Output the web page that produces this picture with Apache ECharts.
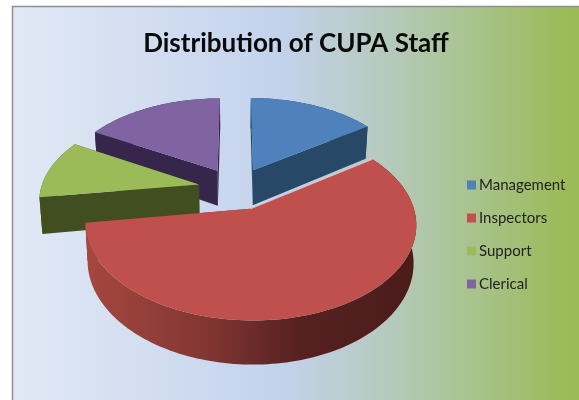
<!DOCTYPE html>
<html>
<head>
<meta charset="utf-8">
<style>html,body{margin:0;padding:0;background:#fff}#chart{width:579px;height:400px}</style>
<script src="https://cdn.jsdelivr.net/npm/echarts@6/dist/echarts.min.js"></script>
</head>
<body>
<div id="chart"></div>
<script>
const categories = ['Management', 'Inspectors', 'Support', 'Clerical'];
const values = [15.3, 57.4, 10.6, 16.7];
const topColors = ['#4f81bd', '#c0504d', '#9bbb59', '#8064a2'];
const wallColors = ['#284868', '#7a2f2d', '#414e20', '#36264b'];

const cx = 236, cy = 188.5, rx = 158, ry = 88.1, persp = 0.15, explode = 0.24, depth = 36;

const total = values.reduce((a, b) => a + b, 0);
let running = 0;
const spans = values.map(v => {
  const start = running / total * Math.PI * 2;
  running += v;
  return [start, running / total * Math.PI * 2];
});

function project(x, y, z) {
  const s = 1 / (1 - persp * y);
  return [cx + rx * x * s * (1 - 0.015 * z), cy + ry * y * s + depth * s * z];
}

function renderSlice(params, api) {
  const i = api.value(0);
  const a0 = spans[i][0], a1 = spans[i][1];
  const mid = (a0 + a1) / 2;
  const ox = Math.sin(mid) * explode, oy = -Math.cos(mid) * explode;
  const arcAt = (a, z) => project(ox + Math.sin(a), oy - Math.cos(a), z);
  const apex = z => project(ox, oy, z);

  const steps = Math.max(12, Math.round((a1 - a0) * 40));
  const arc = z => {
    const pts = [];
    for (let k = 0; k <= steps; k++) pts.push(arcAt(a0 + (a1 - a0) * k / steps, z));
    return pts;
  };

  const wallFill = i === 1
    ? new echarts.graphic.LinearGradient(85, 0, 416, 0, [
        { offset: 0, color: '#a5473f' },
        { offset: 0.35, color: '#843733' },
        { offset: 0.65, color: '#552120' },
        { offset: 1, color: '#4b1c1b' }
      ], true)
    : wallColors[i];

  const poly = (points, fill) => ({ type: 'polygon', shape: { points }, style: { fill } });
  const children = [
    poly([apex(0), arcAt(a0, 0), arcAt(a0, 1), apex(1)], wallColors[i]),
    poly([apex(0), arcAt(a1, 0), arcAt(a1, 1), apex(1)], wallColors[i]),
    poly(arc(0).concat(arc(1).reverse()), wallFill),
    poly([apex(0)].concat(arc(0)), topColors[i])
  ];
  // pale edge where the inspectors slice meets the management wall
  if (i === 1) {
    children.push({
      type: 'polyline',
      shape: { points: [apex(0), arcAt(a0, 0)] },
      style: { fill: null, stroke: 'rgba(235,235,245,0.7)', lineWidth: 1 }
    });
  }
  return { type: 'group', children };
}

const chart = echarts.init(document.getElementById('chart'), null, { renderer: 'canvas' });

// back slices first, inspectors sits on top of everything
const drawOrder = [3, 0, 2, 1];

chart.setOption({
  animation: false,
  backgroundColor: '#fff',
  title: {
    text: 'Distribution of CUPA Staff',
    left: 291,
    top: 26,
    textAlign: 'center',
    textStyle: { fontFamily: 'Lato', fontWeight: 'bold', fontSize: 26, color: '#0a0a0a' }
  },
  legend: {
    orient: 'vertical',
    left: 467,
    top: 175,
    padding: 0,
    itemWidth: 9,
    itemHeight: 9,
    itemGap: 13,
    icon: 'rect',
    data: categories,
    textStyle: { fontFamily: 'Lato', fontSize: 15, color: '#222', padding: [0, 0, 0, -2], lineHeight: 20 }
  },
  graphic: [{
    type: 'rect',
    z: -10,
    silent: true,
    shape: { x: 12.5, y: 6.5, width: 600, height: 420 },
    style: {
      stroke: '#8f8f8f',
      lineWidth: 1.5,
      fill: new echarts.graphic.LinearGradient(0, 0, 1, 0, [
        { offset: 0, color: '#e2e9f5' },
        { offset: 0.45, color: '#c3d2ec' },
        { offset: 0.64, color: '#b4c9b8' },
        { offset: 0.92, color: '#9bbb59' },
        { offset: 1, color: '#9bbb59' }
      ])
    }
  }],
  series: drawOrder.map(i => ({
    type: 'custom',
    name: categories[i],
    coordinateSystem: 'none',
    itemStyle: { color: topColors[i] },
    renderItem: renderSlice,
    data: [[i, values[i]]]
  }))
});
</script>
</body>
</html>
